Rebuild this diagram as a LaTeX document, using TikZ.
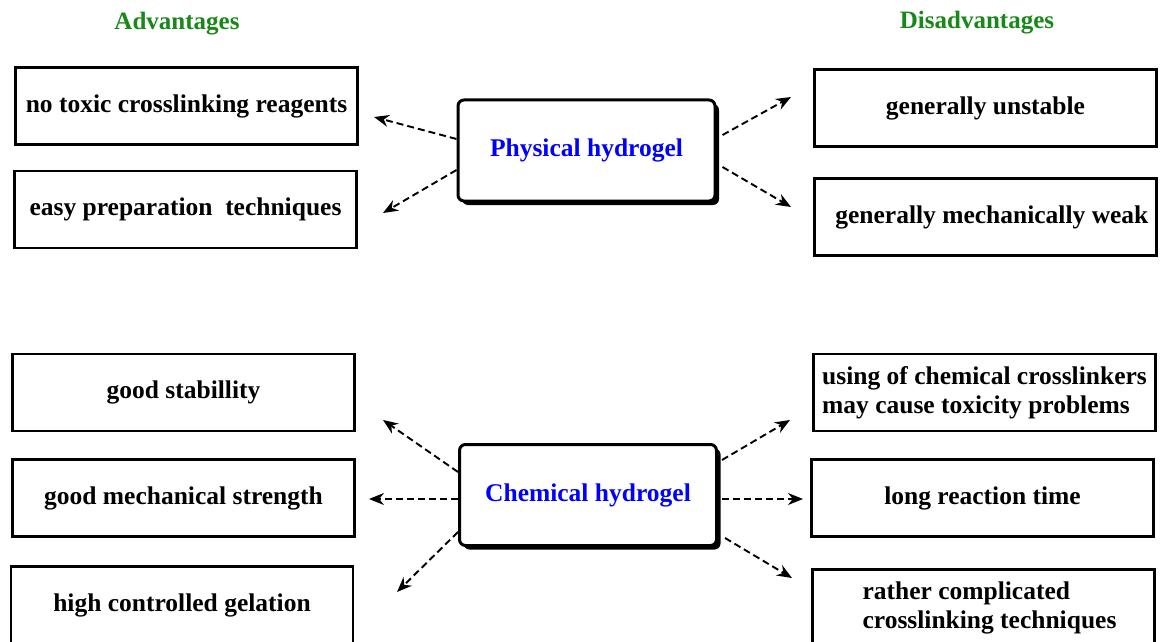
\documentclass[tikz,border=0pt]{standalone}
\usepackage{fontspec}
\setmainfont{Liberation Serif}
\usepackage{tikz}
\usetikzlibrary{arrows.meta,shadows}
\definecolor{headgreen}{RGB}{24,136,24}
\tikzset{>={Stealth[length=15pt,width=12pt]}}
\tikzset{
  itembox/.style={draw=black, line width=2.8pt, minimum width=342pt, minimum height=77pt,
    inner sep=0pt, font=\bfseries\fontsize{25.5}{29}\selectfont, align=center},
  gelbox/.style={draw=black, line width=3pt, rounded corners=6pt, fill=white,
    minimum width=257pt, minimum height=101pt, inner sep=0pt, text=blue,
    font=\bfseries\fontsize{25.5}{29}\selectfont,
    drop shadow={shadow xshift=4pt, shadow yshift=-4pt, fill=black, opacity=1}},
  headtext/.style={text=headgreen, font=\bfseries\fontsize{25}{29}\selectfont},
  linkarrow/.style={->, dash pattern=on 7pt off 4pt, line width=1.9pt}
}

\begin{document}
\begin{tikzpicture}[x=1pt, y=-1pt]

\path[use as bounding box] (0,0) rectangle (1160,642);
\clip (0,0) rectangle (1160,642);

% headings
\node[headtext] (advhead) at (177,24) {Advantages};
\node[headtext] (disadvhead) at (977,23) {Disadvantages};

% the two kinds of hydrogel
\node[gelbox] (phys) at (586.5,150.5) {Physical hydrogel};
\node[gelbox] (chem) at (588,495) {Chemical hydrogel};

% physical hydrogel
\node[itembox] (padv1) at (186.5,106) {no toxic crosslinking reagents};
\node[itembox] (padv2) at (185.5,209.5) {easy preparation\ \ techniques};
\node[itembox] (pdis1) at (985.5,108) {generally unstable};
\node[itembox] (pdis2) at (985.5,217) {\ \ generally mechanically weak};

% chemical hydrogel
\node[itembox] (cadv1) at (183.5,392.5) {good stabillity};
\node[itembox] (cadv2) at (183.5,498) {good mechanical strength};
\node[itembox] (cadv3) at (182,605) {high controlled gelation};
\node[itembox, align=left] (cdis1) at (984.5,392.5) {using of chemical crosslinkers\\may cause toxicity problems};
\node[itembox] (cdis2) at (982.5,498) {long reaction time};
\node[itembox, align=left] (cdis3) at (983.5,608) {\hspace*{12pt}rather complicated\\\hspace*{12pt}crosslinking techniques};

% arrow tips
\coordinate (tpa1) at (374,117);
\coordinate (tpa2) at (383,213);
\coordinate (tpd1) at (791,97);
\coordinate (tpd2) at (791,207);
\coordinate (tca1) at (383,420);
\coordinate (tca2) at (369,499);
\coordinate (tca3) at (397,592);
\coordinate (tcd1) at (790,420);
\coordinate (tcd2) at (803,499);
\coordinate (tcd3) at (792,578);

\draw[linkarrow] ([yshift=11.5pt]phys.west) -- (tpa1);
\draw[linkarrow] ([yshift=-19.5pt]phys.west) -- (tpa2);
\draw[linkarrow] ([xshift=6pt,yshift=15.5pt]phys.east) -- (tpd1);
\draw[linkarrow] ([xshift=6pt,yshift=-16.5pt]phys.east) -- (tpd2);

\draw[linkarrow] ([yshift=23pt]chem.west) -- (tca1);
\draw[linkarrow] ([yshift=-4pt]chem.west) -- (tca2);
\draw[linkarrow] ([yshift=-37pt]chem.west) -- (tca3);
\draw[linkarrow] ([xshift=4pt,yshift=35pt]chem.east) -- (tcd1);
\draw[linkarrow] ([xshift=4pt,yshift=-4pt]chem.east) -- (tcd2);
\draw[linkarrow] ([xshift=7pt,yshift=-43pt]chem.east) -- (tcd3);

\end{tikzpicture}
\end{document}
